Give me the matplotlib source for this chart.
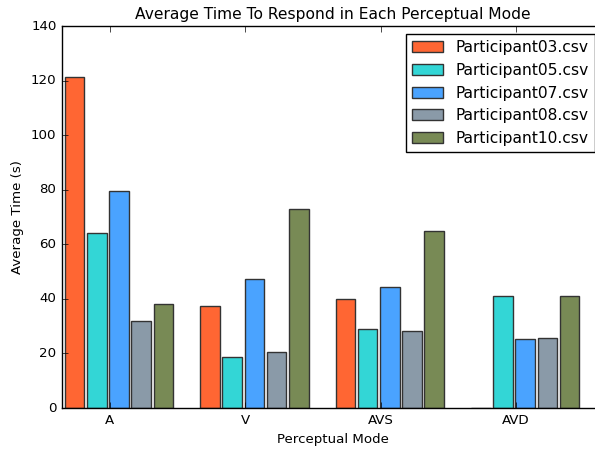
import numpy as np
import matplotlib
matplotlib.use('Agg')
import matplotlib.pyplot as plt

plt.style.use('classic')

# values
modes = ['A', 'V', 'AVS', 'AVD']
participants = ['Participant03.csv', 'Participant05.csv', 'Participant07.csv',
                'Participant08.csv', 'Participant10.csv']
p03 = [121.3, 37.3, 39.8, 0.0]
p05 = [64.3, 18.7, 29.1, 40.9]
p07 = [79.5, 47.4, 44.3, 25.2]
p08 = [31.9, 20.4, 28.3, 25.5]
p10 = [38.2, 72.9, 64.9, 40.9]
colors = ['#ff6633', '#33d6d6', '#4aa3ff', '#8a9aa8', '#788a55']

series = [p03, p05, p07, p08, p10]
ind = np.arange(len(modes))
width = 0.145
step = 0.164

fig = plt.figure(figsize=(5.95, 4.49), dpi=100)
ax = fig.add_axes([62/595, 1 - 408/449, (603-62)/595, (408-26)/449])

for i, (vals, name) in enumerate(zip(series, participants)):
    ax.bar(ind + (i - 2) * step - 0.005, vals, width, align='edge',
           color=colors[i], edgecolor='#333333', linewidth=1, label=name)

ax.set_xticks(ind)
ax.set_xticklabels(modes, fontsize=9.6)
ax.tick_params(axis='y', labelsize=9.6)
ax.set_xlim(-0.354, 3.642)
ax.set_ylim(0, 140)
ax.set_xlabel('Perceptual Mode', fontsize=9.6)
ax.set_ylabel('Average Time (s)', fontsize=9.6)
ax.set_title('Average Time To Respond in Each Perceptual Mode', fontsize=11.2)
ax.legend(loc='upper right', fontsize=11.2)

fig.savefig('out.png', dpi=100)
